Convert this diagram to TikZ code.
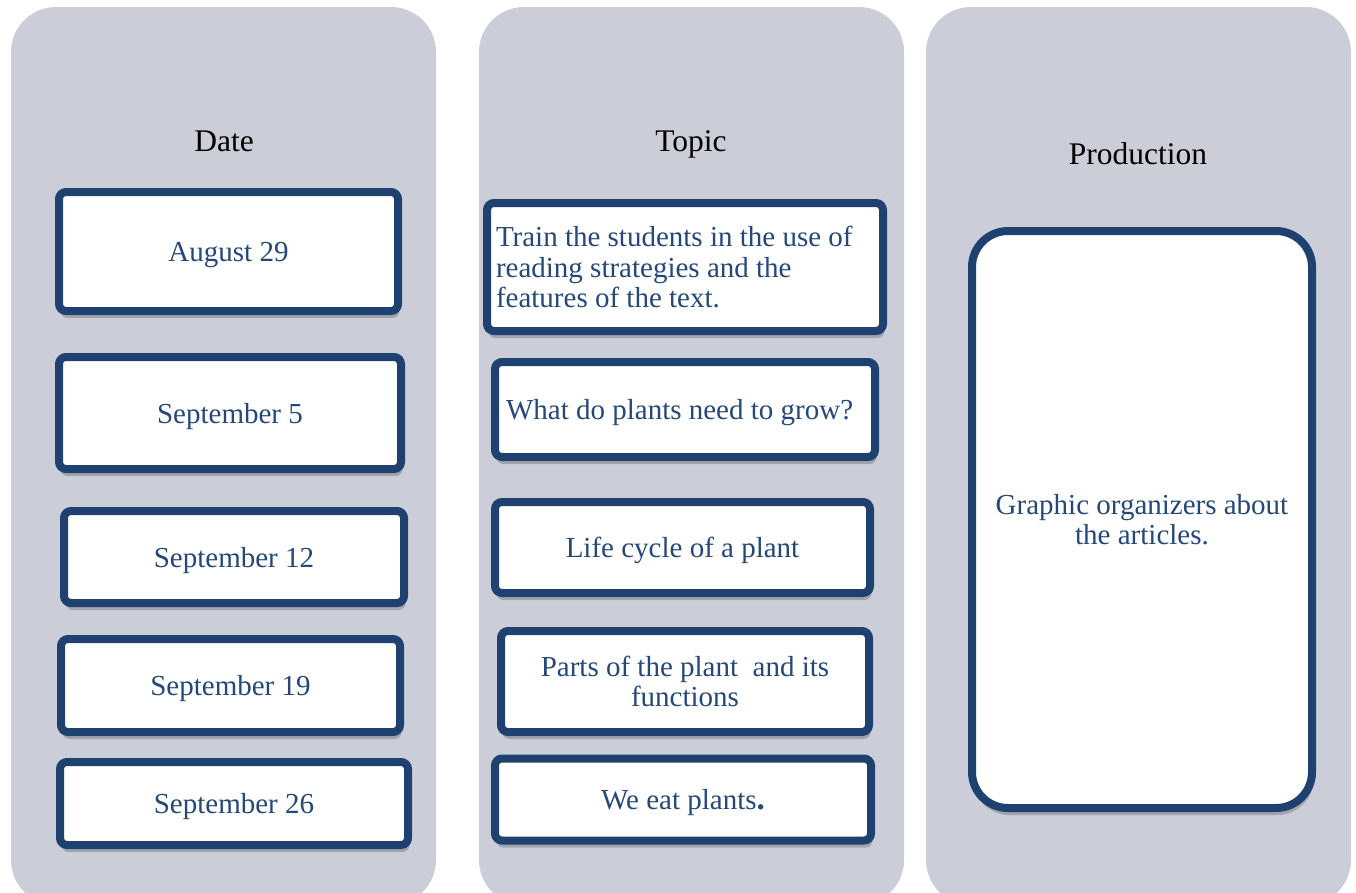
\documentclass[tikz,border=0pt]{standalone}
\usepackage{fontspec}
\setmainfont{Liberation Serif}
\usetikzlibrary{shadows}
\definecolor{colfill}{RGB}{203,206,216}
\definecolor{boxline}{RGB}{30,65,112}
\definecolor{boxtext}{RGB}{36,72,122}
\begin{document}
\begin{tikzpicture}[x=1pt,y=-1pt,
  column/.style={fill=colfill, rounded corners=45pt},
  card/.style={draw=boxline, line width=8pt, fill=white, rounded corners=7pt,
    text=boxtext, font=\fontsize{29}{30.5}\selectfont, align=center,
    inner sep=0pt,
    drop shadow={shadow xshift=1.5pt, shadow yshift=-7pt, opacity=0.2, fill=black}},
  oneline/.style={card, text depth=0pt},
  bigcard/.style={card, rounded corners=36pt},
  header/.style={font=\fontsize{31.5}{34}\selectfont, text=black, anchor=base, inner sep=0pt}]
  \useasboundingbox (0,0) rectangle (1356,892);
  \clip (0,0) rectangle (1356,892);

  % three column panels
  \fill[column] (11,7) rectangle (436,905);
  \fill[column] (479,7) rectangle (904,905);
  \fill[column] (926,7) rectangle (1351,905);

  % column headings
  \node[header] (hdate) at (224,151) {Date};
  \node[header] (htopic) at (691,151) {Topic};
  \node[header] (hprod) at (1138,164) {Production};

  % dates
  \node[oneline, minimum width=339pt, minimum height=119pt] (d1) at (228.5,251.5) {August 29};
  \node[oneline, minimum width=342pt, minimum height=112pt] (d2) at (230,413) {September 5};
  \node[oneline, minimum width=340pt, minimum height=92pt] (d3) at (234,557) {September 12};
  \node[oneline, minimum width=339pt, minimum height=93pt] (d4) at (230.5,685.5) {September 19};
  \node[oneline, minimum width=348pt, minimum height=83pt] (d5) at (234,803.5) {September 26};

  % topics
  \node[card, minimum width=396pt, minimum height=128pt, text width=378pt, align=flush left] (t1) at (685,267)
    {Train the students in the use of\\reading strategies and the\\features of the text.};
  \node[oneline, minimum width=380pt, minimum height=95pt, text width=358pt, align=flush left] (t2) at (685,409.5)
    {What do plants need to grow?};
  \node[oneline, minimum width=375pt, minimum height=91pt] (t3) at (682.5,547.5) {Life cycle of a plant};
  \node[card, minimum width=368pt, minimum height=101pt] (t4) at (685,681.5)
    {Parts of the plant\ \ and its\\functions};
  \node[oneline, minimum width=376pt, minimum height=82pt] (t5) at (683,799.5)
    {We eat plants{\fontsize{33}{33}\selectfont\bfseries .}};

  % production
  \node[bigcard, minimum width=340pt, minimum height=577pt] (p1) at (1142,519.5)
    {Graphic organizers about\\the articles.};
\end{tikzpicture}
\end{document}
